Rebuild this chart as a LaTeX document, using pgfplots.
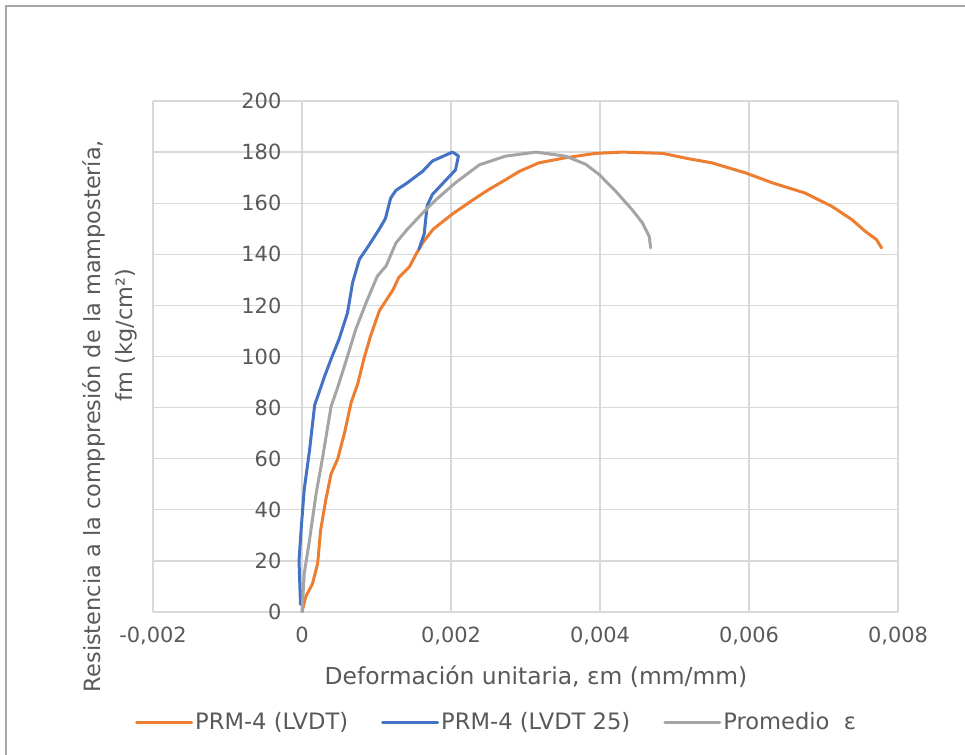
\documentclass[border=0pt]{standalone}
\usepackage{pgfplots}
\pgfplotsset{compat=1.18}
\usepackage{fontspec}
\setmainfont{DejaVu Sans}
\definecolor{orangeS}{HTML}{ED7D31}
\definecolor{blueS}{HTML}{4472C4}
\definecolor{grayS}{HTML}{A5A5A5}
\definecolor{gridc}{HTML}{D9D9D9}
\definecolor{txt}{HTML}{595959}
\definecolor{border}{HTML}{A6A6A6}
\begin{document}
\begin{tikzpicture}
\useasboundingbox (-153bp,-143bp) rectangle (812bp,612bp);
\draw[color=border, line width=1.5bp] (-147bp,-150bp) -- (-147bp,606bp) -- (820bp,606bp);
\begin{axis}[
  at={(0,0)}, anchor=south west,
  scale only axis, width=745bp, height=511bp,
  xmin=-0.002, xmax=0.008, ymin=0, ymax=200,
  scaled x ticks=false, scaled y ticks=false,
  axis x line=bottom, axis y line=center,
  axis line style={draw=none}, tick style={draw=none},
  hide obscured x ticks=false, hide obscured y ticks=false,
  grid=major, major grid style={color=gridc, line width=1.2bp},
  xtick={-0.002,0,0.002,0.004,0.006,0.008},
  xticklabels={{-0,002},{0},{0,002},{0,004},{0,006},{0,008}},
  ytick={0,20,40,60,80,100,120,140,160,180,200},
  yticklabels={0,20,40,60,80,100,120,140,160,180,200},
  tick label style={font=\fontsize{21}{25}\selectfont, text=txt},
  xticklabel style={yshift=-9bp},
  yticklabel style={xshift=-15bp},
  xlabel={Deformación unitaria, εm (mm/mm)},
  ylabel={Resistencia a la comppresión de la mampostería,\\\hspace*{162bp}fm (kg/cm²)},
  every axis x label/.style={at={(rel axis cs:0.514,-0.127)}, anchor=center, font=\fontsize{23.5}{28}\selectfont, text=txt},
  every axis y label/.style={at={(rel axis cs:-0.0577,0.3836)}, anchor=center, rotate=90, align=center, font=\fontsize{22.5}{32}\selectfont, text=txt},
  legend columns=3,
  legend style={at={(rel axis cs:-0.0242,-0.2153)}, anchor=west, draw=none, fill=none, inner sep=0pt,
    font=\fontsize{22.7}{27}\selectfont, text=txt,
    /tikz/every even column/.append style={column sep=31bp},
    nodes={inner sep=2bp}},
  legend image code/.code={\draw[#1, line width=3bp] (0bp,0bp) -- (55bp,0bp);},
  every axis plot/.append style={line width=3bp, line join=round, line cap=round},
]
\addplot[color=orangeS, mark=none] coordinates {
(0,0) (0.00005,6) (0.00014,11) (0.00021,19) (0.00025,32) (0.00032,44) (0.00039,54)
(0.00048,60) (0.00057,70) (0.00066,82) (0.00075,89.5) (0.00083,99) (0.00092,108)
(0.00104,118) (0.00113,122) (0.00122,126) (0.0013,131) (0.00144,135) (0.00153,140)
(0.00162,144.5) (0.00176,149.8) (0.00202,155.8) (0.00233,162) (0.00251,165.4)
(0.00274,169.3) (0.00292,172.5) (0.00318,175.8) (0.00354,177.8) (0.00394,179.5)
(0.0043,180) (0.00484,179.5) (0.00519,177.4) (0.0055,175.8) (0.00595,171.9)
(0.00631,168) (0.00675,164) (0.00711,158.8) (0.00738,153.6) (0.00756,149)
(0.00771,145.8) (0.00778,142.5)
};
\addlegendentry{PRM-4 (LVDT)}
\addplot[color=blueS, mark=none] coordinates {
(-0.00002,3) (-0.00004,20) (-0.00001,33) (0.00003,48) (0.0001,63) (0.00017,81)
(0.00023,86) (0.0003,92) (0.00039,99) (0.0005,107) (0.00061,117) (0.00068,129)
(0.00077,138) (0.0009,143.6) (0.00104,150) (0.00112,154) (0.00119,162) (0.00126,165)
(0.0014,167.7) (0.00162,172.5) (0.00175,176.5) (0.00202,180) (0.0021,178.5)
(0.00206,173) (0.00193,169) (0.00175,163.4) (0.00168,159) (0.00164,148) (0.00157,142)
};
\addlegendentry{PRM-4 (LVDT 25)}
\addplot[color=grayS, mark=none] coordinates {
(0,0) (0.00003,15) (0.0001,28) (0.00019,46.4) (0.00028,61) (0.00039,80.4)
(0.00048,88) (0.00061,100) (0.00072,110.5) (0.00086,121) (0.00101,131.4)
(0.00113,135.5) (0.00126,144.4) (0.00142,150) (0.00166,157.4) (0.0018,161.4)
(0.00206,168) (0.00238,175) (0.00273,178.4) (0.00314,180) (0.00354,178.4)
(0.00381,175.2) (0.00399,171.2) (0.00421,164.7) (0.00443,157.5) (0.00457,152.3)
(0.00466,147) (0.00468,142.5)
};
\addlegendentry{Promedio~~ε}
\end{axis}
\end{tikzpicture}
\end{document}
